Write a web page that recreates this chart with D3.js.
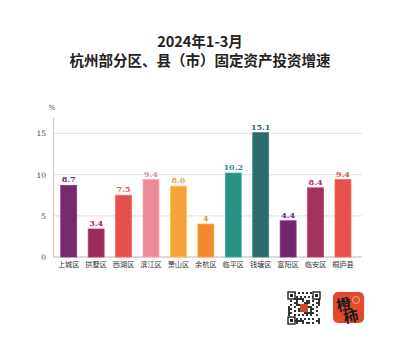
<!DOCTYPE html>
<html><head><meta charset="utf-8">
<script src="https://cdn.jsdelivr.net/npm/d3@7"></script>
<style>html,body{margin:0;padding:0;background:#fff;}svg{display:block;}</style>
</head><body>
<svg id="chart" width="400" height="348"></svg>
<script>
const titleLines = ["2024年1-3月", "杭州部分区、县（市）固定资产投资增速"];
const categories = ["上城区","拱墅区","西湖区","滨江区","萧山区","余杭区","临平区","钱塘区","富阳区","临安区","桐庐县"];
const values = [8.7, 3.4, 7.5, 9.4, 8.6, 4, 10.2, 15.1, 4.4, 8.4, 9.4];
const barColors = ["#76296c","#9c2b5a","#e4514b","#ee8b95","#f4a33b","#ef8a2d","#2a9188","#2c6b6c","#72296f","#a3325e","#e8524a"];
const yTicks = [0, 5, 10, 15];
const unitLabel = "%";

const svg = d3.select("#chart");
const serif = "'Noto Sans CJK SC', 'DejaVu Serif', serif";

svg.selectAll("text.title").data(titleLines).join("text")
  .attr("class","title")
  .attr("x", 200).attr("y", (d,i) => 47 + i*19)
  .attr("text-anchor","middle")
  .attr("font-family", serif).attr("font-weight","bold")
  .attr("font-size", 14.5).attr("fill","#222")
  .text(d => d);

const x0 = 53, x1 = 362, yTop = 117, yBase = 257;
const x = d3.scaleBand().domain(categories).range([55, 356.7]).paddingInner(0.42).paddingOuter(0.21);
const y = d3.scaleLinear().domain([0, 17]).range([yBase, yTop]);

// gridlines
svg.append("g").selectAll("line").data(yTicks.filter(t => t > 0)).join("line")
  .attr("x1", x0).attr("x2", x1)
  .attr("y1", d => y(d)).attr("y2", d => y(d))
  .attr("stroke","#e6e6e6").attr("stroke-width",1.3);

// y axis
const yAxis = d3.axisLeft(y).tickValues(yTicks).tickSize(0).tickPadding(7);
const gy = svg.append("g").attr("transform", `translate(${x0},0)`).call(yAxis);
gy.select(".domain").attr("stroke","#cfcfcf").attr("stroke-width",1.2);
gy.selectAll("text").attr("font-family","'DejaVu Serif', serif").attr("font-size",7.5).attr("fill","#444");

// baseline
svg.append("line").attr("x1", x0).attr("x2", x1).attr("y1", yBase).attr("y2", yBase)
  .attr("stroke","#cfcfcf").attr("stroke-width",1.3);

svg.append("text").attr("x", 52).attr("y", 110).attr("text-anchor","middle")
  .attr("font-family","'DejaVu Serif', serif").attr("font-size",7).attr("fill","#444").text(unitLabel);

// bars
const data = categories.map((c,i) => ({c, v: values[i], col: barColors[i]}));
svg.append("g").selectAll("rect").data(data).join("rect")
  .attr("x", d => x(d.c)).attr("width", x.bandwidth())
  .attr("y", d => y(d.v)).attr("height", d => yBase - y(d.v))
  .attr("fill", d => d.col)
  .attr("stroke", d => d3.color(d.col).brighter(0.5)).attr("stroke-width",0.8);

svg.append("g").selectAll("text").data(data).join("text")
  .attr("x", d => x(d.c) + x.bandwidth()/2).attr("y", d => y(d.v) - 3)
  .attr("text-anchor","middle")
  .attr("font-family","'DejaVu Serif', serif").attr("font-weight","bold")
  .attr("font-size",8).attr("fill", d => d.col)
  .text(d => d.v);

// x labels
const xAxis = d3.axisBottom(x).tickSize(0).tickPadding(5);
const gx = svg.append("g").attr("transform", `translate(0,${yBase})`).call(xAxis);
gx.select(".domain").remove();
gx.selectAll("text").attr("font-family", serif).attr("font-size",7.2).attr("fill","#333");

// QR code-like block
const qr = svg.append("g").attr("transform","translate(288,292)");
qr.append("rect").attr("width",32).attr("height",32).attr("fill","#fff");
const n = 16, cs = 2;
const pat = [];
for (let r=0;r<n;r++) for (let c=0;c<n;c++) {
  const h = ((r*131 + c*71 + r*c*17) % 11);
  if (h < 5) pat.push([r,c]);
}
qr.selectAll("rect.m").data(pat).join("rect").attr("class","m")
  .attr("x", d=>d[1]*cs).attr("y", d=>d[0]*cs).attr("width",cs).attr("height",cs).attr("fill","#333");
[[0,0],[0,25],[25,0]].forEach(([px,py]) => {
  qr.append("rect").attr("x",px).attr("y",py).attr("width",7).attr("height",7).attr("fill","#fff").attr("stroke","#222").attr("stroke-width",1.4);
  qr.append("rect").attr("x",px+2).attr("y",py+2).attr("width",3).attr("height",3).attr("fill","#222");
});
qr.append("rect").attr("x",12).attr("y",12).attr("width",8).attr("height",8).attr("fill","#d8452f");

// logo
const lg = svg.append("g").attr("transform","translate(333,292)");
lg.append("rect").attr("width",31).attr("height",31).attr("rx",5).attr("fill","#e34a2c");
lg.append("circle").attr("cx",23).attr("cy",8).attr("r",3.5).attr("fill","none").attr("stroke","#f6c9b8").attr("stroke-width",0.8);
lg.append("text").attr("x",12).attr("y",18).attr("text-anchor","middle")
  .attr("font-family", serif).attr("font-weight","bold").attr("font-size",15).attr("fill","#1a1a1a").attr("transform","rotate(-12 12 18)").text("橙");
lg.append("text").attr("x",19).attr("y",30).attr("text-anchor","middle")
  .attr("font-family", serif).attr("font-weight","bold").attr("font-size",15).attr("fill","#1a1a1a").attr("transform","rotate(-12 19 30)").text("柿");
</script>
</body></html>
